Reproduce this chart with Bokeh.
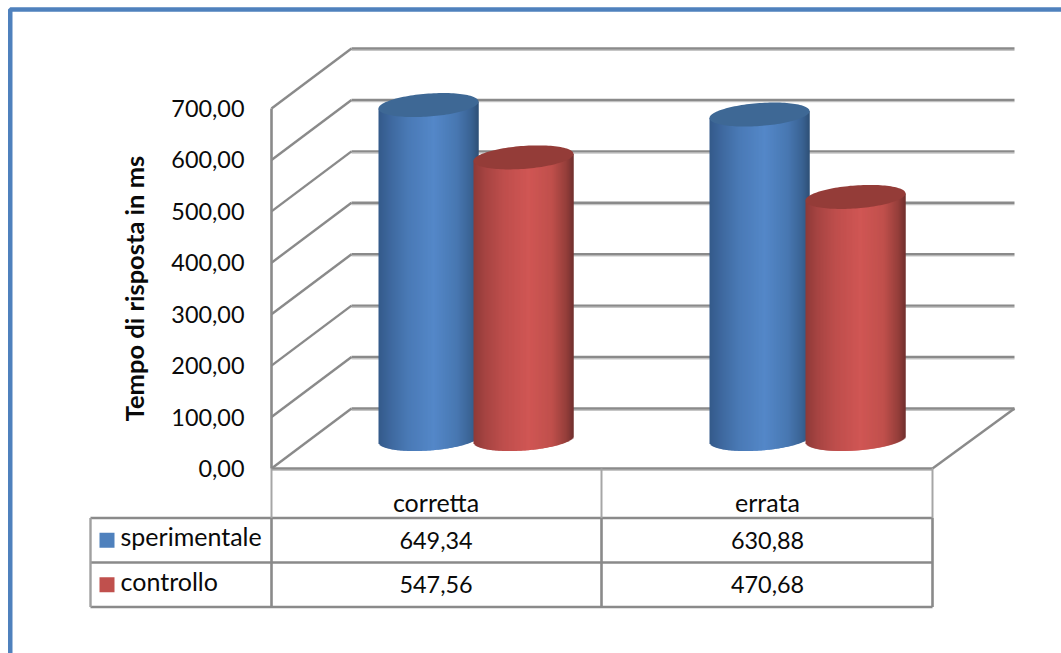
from bokeh.embed import file_html
from bokeh.models import FixedTicker, LinearAxis, Range1d
from bokeh.plotting import figure
from bokeh.resources import INLINE
from bokeh.core.properties import value
import numpy as np

# Chart data
categories = ["corretta", "errata"]
series_names = ["sperimentale", "controllo"]
sperimentale = [649.34, 630.88]
controllo = [547.56, 470.68]
tick_values = [0, 100, 200, 300, 400, 500, 600, 700]
axis_title = "Tempo di risposta in ms"

W, H = 1061, 653
FONT = "Lato"
GREY = "#8a8a8a"
SHADOW = "#c6c6c6"
TEXT = "#0a0a0a"
NUM_SIZE = "23.4px"
WORD_SIZE = "25px"

# Vertical scale: value 0 and 700 on the front wall of the 3D box
PX_ZERO = 468.0
PX_PER_UNIT = 360.0 / 700.0


def vy(px):
    """Screen row to value units."""
    return (PX_ZERO - np.asarray(px, dtype=float)) / PX_PER_UNIT


p = figure(width=W, height=H, output_backend="svg", toolbar_location=None,
           x_range=Range1d(0, W), y_range=Range1d(float(vy(H)), float(vy(0))),
           x_axis_type=None, y_axis_type=None, min_border=0,
           outline_line_color=None, border_fill_color="white",
           background_fill_color="white")
p.grid.visible = False

# Slide border along the top and left edges
p.line([9.75, 9.75, W], vy([H, 9, 9]), line_color="#4f81bd", line_width=4.5)

# 3D box geometry
FRONT_L, FRONT_R = 271, 932
BACK_L, BACK_R = 351, 1014
DEPTH_PX = 60


def hline(x0, x1, py, width=2.4, shadow=True):
    if shadow:
        p.line([x0, x1], vy([py + 1.8, py + 1.8]), line_color=SHADOW, line_width=1.2)
    p.line([x0, x1], vy([py, py]), line_color=GREY, line_width=width)


# Back wall gridlines and their diagonals on the side wall
for t in tick_values:
    back = PX_ZERO - DEPTH_PX - t * PX_PER_UNIT
    front = PX_ZERO - t * PX_PER_UNIT
    hline(BACK_L, BACK_R, back)
    p.line([FRONT_L, BACK_L], vy([front, back]), line_color=GREY, line_width=2.4)

# Floor edge on the right side
p.line([FRONT_R, BACK_R], vy([PX_ZERO, PX_ZERO - DEPTH_PX]), line_color=GREY, line_width=2.4)


def shade(stops, f):
    pos = [s[0] for s in stops]
    rgb = [np.interp(f, pos, [s[1][i] for s in stops]) for i in range(3)]
    return "#%02x%02x%02x" % tuple(int(round(c)) for c in rgb)


BLUE_STOPS = [(0, (52, 90, 138)), (0.12, (62, 104, 158)), (0.3, (74, 122, 182)),
              (0.55, (84, 135, 200)), (0.78, (72, 120, 178)), (0.93, (58, 98, 146)),
              (1, (46, 80, 118))]
RED_STOPS = [(0, (142, 58, 56)), (0.12, (166, 68, 66)), (0.3, (190, 78, 76)),
             (0.55, (208, 86, 84)), (0.78, (192, 80, 76)), (0.93, (148, 62, 58)),
             (1, (112, 48, 46))]
BLUE_CAP = "#3e6895"
RED_CAP = "#943c38"

RADIUS = 50
CAP_B = 11.5
CAP_K = 3.5
BASE_PX = 438.5


def cylinder(cx, val, stops, cap_color):
    top_px = BASE_PX - val * PX_PER_UNIT
    xs = np.arange(cx - RADIUS, cx + RADIUS, 1.0)
    mids = xs + 0.5
    c = np.clip((mids - cx) / RADIUS, -1, 1)
    lower = BASE_PX + CAP_B * np.sqrt(1 - c ** 2) - CAP_K * c
    colors = [shade(stops, (m - xs[0]) / (2 * RADIUS)) for m in mids]
    rights = xs + 2.0
    rights[-1] = xs[-1] + 1.0
    # Column tops follow the tilted centre line of the cap
    p.quad(left=xs, right=rights, top=vy(top_px - CAP_K * c), bottom=vy(lower),
           fill_color=colors, line_color=None)
    t = np.linspace(0, 2 * np.pi, 121)
    p.patch(cx + RADIUS * np.cos(t),
            vy(top_px + CAP_B * np.sin(t) - CAP_K * np.cos(t)),
            fill_color=cap_color, line_color=None)


BLUE_X = [428, 759]
RED_X = [523, 855]
for i in range(len(categories)):
    cylinder(BLUE_X[i], sperimentale[i], BLUE_STOPS, BLUE_CAP)
    cylinder(RED_X[i], controllo[i], RED_STOPS, RED_CAP)

# Data table under the chart
COL_X = [271, 601, 932]
CENTERS = [435.5, 767]
ROW_Y = [517.5, 562, 606.5]
TABLE_L = 90

hline(COL_X[0], COL_X[2], PX_ZERO)
for r in ROW_Y:
    hline(TABLE_L, COL_X[2], r, shadow=False)
p.line([TABLE_L, TABLE_L], vy([ROW_Y[0], ROW_Y[2]]), line_color="#a0a0a0", line_width=2.4)
for cx in COL_X:
    p.line([cx, cx], vy([PX_ZERO, ROW_Y[0]]), line_color="#a6a6a6", line_width=2)
    p.line([cx, cx], vy([ROW_Y[0], ROW_Y[2]]), line_color=GREY, line_width=2.6)

# Legend keys and series names in the first table column
for row, (name, color) in enumerate(zip(series_names, ["#4f81bd", "#c0504d"])):
    mid = (ROW_Y[row] + ROW_Y[row + 1]) / 2
    p.quad(left=[99], right=[114], top=vy([mid - 7.5]), bottom=vy([mid + 7.5]),
           fill_color=color, line_color=None)
    p.text(x=[120], y=vy([mid - 4]), text=[name], text_font=value(FONT),
           text_font_size=WORD_SIZE, text_baseline="middle", text_color=TEXT)

# Table values
for row, vals in enumerate([sperimentale, controllo]):
    mid = (ROW_Y[row] + ROW_Y[row + 1]) / 2
    labels = [f"{v:.2f}".replace(".", ",") for v in vals]
    p.text(x=CENTERS, y=vy([mid] * 2), text=labels, text_font=value(FONT),
           text_font_size=NUM_SIZE, text_align="center", text_baseline="middle",
           text_color=TEXT)

# Value axis on the front corner of the box
yaxis = LinearAxis(fixed_location=FRONT_L, bounds=(0, 700), ticker=FixedTicker(ticks=tick_values),
                   major_label_overrides={t: f"{t:.2f}".replace(".", ",") for t in tick_values},
                   axis_line_color=GREY, axis_line_width=2.6,
                   major_tick_line_color=None, minor_tick_line_color=None,
                   major_tick_in=0, major_tick_out=0,
                   major_label_standoff=27, major_label_text_font=FONT,
                   major_label_text_font_size=NUM_SIZE, major_label_text_color=TEXT,
                   axis_label=axis_title, axis_label_text_font=FONT,
                   axis_label_text_font_size="25.5px", axis_label_text_font_style="bold",
                   axis_label_text_color=TEXT, axis_label_standoff=19)
p.add_layout(yaxis, "left")

# Category axis along the front floor edge
xaxis = LinearAxis(fixed_location=0, bounds=(FRONT_L, FRONT_R), ticker=FixedTicker(ticks=CENTERS),
                   major_label_overrides=dict(zip(CENTERS, categories)),
                   axis_line_color=None, major_tick_line_color=None, minor_tick_line_color=None,
                   major_tick_in=0, major_tick_out=0, major_label_standoff=18,
                   major_label_text_font=FONT, major_label_text_font_size=WORD_SIZE,
                   major_label_text_color=TEXT)
p.add_layout(xaxis, "below")

open("out.html", "w").write(file_html(p, INLINE))
